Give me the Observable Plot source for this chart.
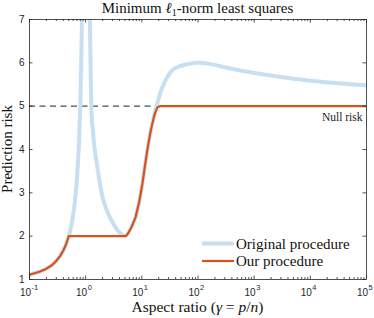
<!DOCTYPE html>
<html><head><meta charset="utf-8">
<script src="https://cdn.jsdelivr.net/npm/d3@7"></script>
<script src="https://cdn.jsdelivr.net/npm/@observablehq/plot@0.6"></script>
<style>
html,body{margin:0;padding:0;background:#fff;}
#chart{width:374px;height:318px;}
</style></head><body><div id="chart"></div>
<script>
// ---- data ----
const xTickValues = [0.1, 1, 10, 100, 1000, 10000, 100000];
const xTickExponents = ["-1", "0", "1", "2", "3", "4", "5"];
const yTickValues = [1, 2, 3, 4, 5, 6, 7];
const seriesNames = ["Original procedure", "Our procedure"];
const nullRisk = 5;
const nullLabel = "Null risk";

const originalGamma = [0.1, 0.15, 0.2, 0.25, 0.3, 0.35, 0.4, 0.45, 0.5, 0.55, 0.6, 0.65, 0.7, 0.75, 0.8, 0.83, 0.86, 0.88, 0.9, 0.95,
  1.05, 1.1, 1.15, 1.19, 1.22, 1.26, 1.35, 1.45, 1.6, 1.8, 2.0, 2.3, 2.6, 3.0, 3.5, 3.9, 4.4, 5.0,
  6, 7, 7.75, 9, 10.2, 11.3, 12.5, 14, 15.4, 17, 19, 21.6, 24, 26.5, 30, 35, 45, 60, 97, 168, 380, 1960, 11500, 100000];
const originalRisk = [1.11, 1.18, 1.25, 1.33, 1.43, 1.54, 1.67, 1.82, 2.0, 2.22, 2.5, 2.86, 3.33, 4.0, 5.0, 5.9, 7.1, 8.3, 10, 20,
  20, 12, 8.6, 7.0, 6.0, 5.0, 4.4, 4.0, 3.63, 3.2, 2.9, 2.65, 2.48, 2.32, 2.18, 2.1, 2.04, 2.01,
  2.12, 2.3, 2.44, 2.8, 3.2, 3.6, 3.98, 4.35, 4.6, 4.85, 5.08, 5.33, 5.48, 5.6, 5.72, 5.83, 5.91, 5.96, 6.0, 5.97, 5.87, 5.71, 5.58, 5.48];

const oursGamma = [0.1, 0.15, 0.2, 0.25, 0.3, 0.35, 0.4, 0.45, 0.5, 1, 2, 4, 5.15, 5.6, 6, 6.5, 7, 7.75, 9, 10.2, 11.3, 12.5, 14, 15.4, 17, 18.9, 20.8, 100, 1000, 100000];
const oursRisk = [1.11, 1.18, 1.25, 1.33, 1.43, 1.54, 1.67, 1.82, 2.0, 2.0, 2.0, 2.0, 2.0, 2.05, 2.12, 2.2, 2.3, 2.44, 2.8, 3.2, 3.6, 3.98, 4.35, 4.6, 4.82, 4.97, 5.0, 5.0, 5.0, 5.0];

// ---- build tables ----
const original = originalGamma.map((g, i) => ({gamma: g, risk: originalRisk[i]}));
const ours = oursGamma.map((g, i) => ({gamma: g, risk: oursRisk[i]}));
const minorX = d3.range(-1, 5).flatMap(e => d3.range(2, 10).map(m => m * Math.pow(10, e)));

const blue = "#c6e0f2", orange = "#d95319", axisColor = "#262626";
const serif = "'Liberation Serif', 'Times New Roman', serif";
const sans = "'Liberation Sans', Arial, sans-serif";

const W = 374, H = 318, mT = 19, mR = 8, mB = 39, mL = 29;
const frameW = W - mL - mR, frameH = H - mT - mB;
const majorLen = 3.5, minorLen = 2;
const tickStyle = {stroke: axisColor, strokeWidth: 0.8};

const plot = Plot.plot({
  width: W, height: H,
  marginTop: mT, marginRight: mR, marginBottom: mB, marginLeft: mL,
  x: {type: "log", domain: [0.1, 1e5], axis: null},
  y: {domain: [1, 7], axis: null},
  style: {fontFamily: sans, fontSize: "10px", color: axisColor, background: "#fff"},
  marks: [
    Plot.ruleY([nullRisk], {stroke: "#4d4d4d", strokeWidth: 1.2, strokeDasharray: "6,4.5"}),
    Plot.line(original, {x: "gamma", y: "risk", stroke: blue, strokeWidth: 4, curve: "monotone-x", clip: true}),
    Plot.line(ours, {x: "gamma", y: "risk", stroke: orange, strokeWidth: 2.2, clip: true}),
    Plot.text([nullLabel], {frameAnchor: "right", y: () => nullRisk, dx: -4, dy: 11, textAnchor: "end", fontFamily: serif, fontSize: 11.5, fill: "#222"}),
    Plot.frame({stroke: axisColor, strokeWidth: 0.8}),
    // inward ticks (bottom, top, left, right)
    Plot.ruleX(xTickValues, {x: d => d, insetTop: frameH - majorLen, ...tickStyle}),
    Plot.ruleX(xTickValues, {x: d => d, insetBottom: frameH - majorLen, ...tickStyle}),
    Plot.ruleX(minorX, {x: d => d, insetTop: frameH - minorLen, ...tickStyle}),
    Plot.ruleX(minorX, {x: d => d, insetBottom: frameH - minorLen, ...tickStyle}),
    Plot.ruleY(yTickValues, {y: d => d, insetRight: frameW - majorLen, ...tickStyle}),
    Plot.ruleY(yTickValues, {y: d => d, insetLeft: frameW - majorLen, ...tickStyle}),
    // tick labels
    Plot.text(yTickValues, {y: d => d, frameAnchor: "left", dx: -5, textAnchor: "end", text: d => String(d), fontSize: 10, fill: axisColor}),
    Plot.text(xTickValues, {x: d => d, frameAnchor: "bottom", dy: 16, dx: 1.5, textAnchor: "end", text: () => "10", fontSize: 10, fill: axisColor}),
    Plot.text(xTickValues, {x: d => d, frameAnchor: "bottom", dy: 10.5, dx: 2, textAnchor: "start", text: (d, i) => xTickExponents[i], fontSize: 7.5, fill: axisColor})
  ]
});

const svg = d3.select(plot);
// title
const title = svg.append("text").attr("x", 197.5).attr("y", 13).attr("text-anchor", "middle")
  .attr("font-family", serif).attr("font-size", 15).attr("fill", "#111");
title.append("tspan").text("Minimum ");
title.append("tspan").attr("font-style", "italic").text("ℓ");
title.append("tspan").attr("font-size", 10).attr("dy", 2.5).text("1");
title.append("tspan").attr("dy", -2.5).text("-norm least squares");
// x label
const xl = svg.append("text").attr("x", 197.5).attr("y", 312).attr("text-anchor", "middle")
  .attr("font-family", serif).attr("font-size", 15.5).attr("fill", "#111");
xl.append("tspan").text("Aspect ratio (");
xl.append("tspan").attr("font-style", "italic").text("γ");
xl.append("tspan").text(" = ");
xl.append("tspan").attr("font-style", "italic").text("p");
xl.append("tspan").text("/");
xl.append("tspan").attr("font-style", "italic").text("n");
xl.append("tspan").text(")");
// y label
svg.append("text").attr("transform", "translate(12,149) rotate(-90)").attr("text-anchor", "middle")
  .attr("font-family", serif).attr("font-size", 15).attr("fill", "#111").text("Prediction risk");
// legend
const lg = svg.append("g");
const legendColors = [blue, orange], legendWidths = [4, 2.2];
seriesNames.forEach((name, i) => {
  const cy = 243.5 + i * 17.5;
  lg.append("line").attr("x1", 202).attr("x2", 234).attr("y1", cy).attr("y2", cy)
    .attr("stroke", legendColors[i]).attr("stroke-width", legendWidths[i]);
  lg.append("text").attr("x", 236).attr("y", cy).attr("dy", "0.35em").attr("text-anchor", "start")
    .attr("font-family", serif).attr("font-size", 15).attr("fill", "#111").text(name);
});

document.getElementById("chart").appendChild(plot);
</script>
</body></html>
